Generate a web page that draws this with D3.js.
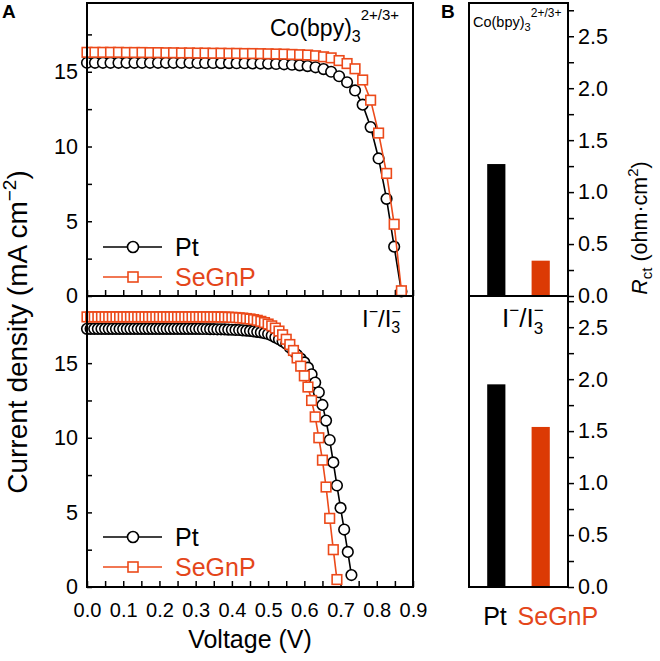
<!DOCTYPE html>
<html><head><meta charset="utf-8">
<script src="https://cdn.jsdelivr.net/npm/d3@7"></script>
<style>body{margin:0;background:#fff} svg{display:block} text{font-family:"Liberation Sans",Arial,sans-serif}</style>
</head><body><svg id="c" width="660" height="661"></svg>
<script>
// ---------- DATA ----------
const coVoltage=[0.000,0.022,0.044,0.065,0.087,0.109,0.131,0.152,0.174,0.196,0.218,0.239,0.261,0.283,0.305,0.326,0.348,0.370,0.392,0.413,0.435,0.457,0.479,0.500,0.522,0.544,0.566,0.587,0.609,0.631,0.653,0.674,0.696,0.718,0.740,0.761,0.783,0.805,0.827,0.848,0.868];
const coPt=[15.60,15.60,15.60,15.60,15.60,15.60,15.60,15.60,15.60,15.60,15.60,15.60,15.60,15.60,15.59,15.59,15.59,15.58,15.58,15.57,15.57,15.56,15.55,15.54,15.52,15.50,15.47,15.43,15.38,15.30,15.18,15.00,14.70,14.30,13.75,12.80,11.30,9.20,6.50,3.30,0.30];
const coSeGnP=[16.30,16.30,16.30,16.30,16.30,16.29,16.29,16.29,16.28,16.28,16.27,16.27,16.26,16.26,16.25,16.25,16.24,16.24,16.23,16.23,16.22,16.22,16.21,16.20,16.19,16.18,16.16,16.14,16.12,16.07,16.00,15.93,15.75,15.55,15.20,14.45,13.10,10.90,8.20,4.80,0.35];
const iVoltage=[0.00,0.01,0.02,0.03,0.04,0.05,0.06,0.07,0.08,0.09,0.10,0.11,0.12,0.13,0.14,0.15,0.16,0.17,0.18,0.19,0.20,0.21,0.22,0.23,0.24,0.25,0.26,0.27,0.28,0.29,0.30,0.31,0.32,0.33,0.34,0.35,0.36,0.37,0.38,0.39,0.40,0.41,0.42,0.43,0.44,0.45,0.46,0.47,0.48,0.49,0.50,0.51,0.52,0.53,0.54,0.55,0.56,0.57,0.58,0.59,0.60,0.61,0.62,0.63,0.64,0.65,0.66,0.67,0.68,0.69,0.70,0.71,0.72,0.73];
const iPt=[17.30,17.30,17.30,17.30,17.30,17.30,17.30,17.30,17.30,17.30,17.30,17.30,17.30,17.30,17.30,17.30,17.30,17.30,17.30,17.30,17.30,17.30,17.30,17.30,17.30,17.30,17.30,17.30,17.30,17.30,17.30,17.30,17.29,17.29,17.28,17.28,17.27,17.27,17.26,17.25,17.24,17.23,17.22,17.20,17.18,17.16,17.13,17.10,17.06,17.01,16.95,16.85,16.73,16.60,16.46,16.30,16.05,15.80,15.55,15.30,15.05,14.70,14.25,13.70,13.05,12.20,11.15,9.85,8.35,6.80,5.30,3.85,2.35,0.80];
const iSeGnP=[18.10,18.10,18.10,18.10,18.10,18.10,18.10,18.10,18.10,18.10,18.10,18.10,18.10,18.10,18.10,18.10,18.10,18.10,18.10,18.10,18.10,18.10,18.10,18.10,18.10,18.10,18.10,18.10,18.10,18.10,18.10,18.10,18.10,18.10,18.10,18.10,18.10,18.09,18.09,18.08,18.07,18.06,18.04,18.02,17.99,17.96,17.92,17.87,17.80,17.72,17.62,17.50,17.35,17.15,16.90,16.60,16.25,15.85,15.35,14.80,14.15,13.40,12.50,11.40,10.00,8.50,6.70,4.60,2.50,0.50];
const voltageTicks=[0.0,0.1,0.2,0.3,0.4,0.5,0.6,0.7,0.8,0.9];
const voltageMinorTicks=[0.05,0.15,0.25,0.35,0.45,0.55,0.65,0.75,0.85];
const currentTicks=[0,5,10,15];
const currentMinorTicks=[2.5,7.5,12.5,17.5];
const barCategories=["Pt","SeGnP"];
const rctCo=[1.27,0.34];
const rctI=[1.95,1.54];
const rctTicks=[0,0.5,1.0,1.5,2.0,2.5];
const rctMinorTicks=[0.25,0.75,1.25,1.75,2.25,2.75];

// ---------- STYLE ----------
const ORANGE="#ec4a1a", BARORANGE="#dc3a04", TEXTORANGE="#e4461a";
const FONT="'Liberation Sans',Arial,sans-serif";
const svg=d3.select("#c");

const AX0=87, AX1=413, BX0=469, BX1=568, YT=3, YM=296, YB=587;
const x=d3.scaleLinear().domain([0,0.9]).range([AX0,AX1]);
const yTop=d3.scaleLinear().domain([0,19.6]).range([YM,YT]);
const yBot=d3.scaleLinear().domain([0,19.5]).range([YB,YM]);
const rTop=d3.scaleLinear().domain([0,2.82]).range([YM,YT]);
const rBot=d3.scaleLinear().domain([0,2.8]).range([YB,YM]);
const xb=d3.scaleBand().domain(barCategories).range([BX0,BX1]).paddingInner(0.59).paddingOuter(0.41);

function styleAxis(g,size){
  g.select(".domain").remove();
  g.selectAll("line").attr("stroke","#000").attr("stroke-width",1.5);
  g.selectAll("text").attr("font-size",size).attr("font-family",FONT).attr("fill","#000");
}
// left y axes
[yTop,yBot].forEach(ys=>{
  const g=svg.append("g").attr("transform",`translate(${AX0},0)`)
    .call(d3.axisLeft(ys).tickValues(currentTicks).tickSizeInner(-5).tickSizeOuter(0).tickPadding(9).tickFormat(d3.format("d")));
  styleAxis(g,21.5);
  const gm=svg.append("g").attr("transform",`translate(${AX0},0)`)
    .call(d3.axisLeft(ys).tickValues(currentMinorTicks).tickSizeInner(-5).tickSizeOuter(0).tickFormat(""));
  styleAxis(gm,10);
});
// x axes (inward ticks)
[YM,YB].forEach((yy,i)=>{
  const g=svg.append("g").attr("transform",`translate(0,${yy})`)
    .call(d3.axisBottom(x).tickValues(voltageTicks).tickSizeInner(-6).tickSizeOuter(0).tickPadding(16).tickFormat(i===1?d3.format(".1f"):""));
  styleAxis(g,20);
  const gm=svg.append("g").attr("transform",`translate(0,${yy})`)
    .call(d3.axisBottom(x).tickValues(voltageMinorTicks).tickSizeInner(-6).tickSizeOuter(0).tickFormat(""));
  styleAxis(gm,10);
});
// right axes for B
[rTop,rBot].forEach(rs=>{
  const g=svg.append("g").attr("transform",`translate(${BX1},0)`)
    .call(d3.axisRight(rs).tickValues(rctTicks).tickSizeInner(6).tickSizeOuter(0).tickPadding(4).tickFormat(d3.format(".1f")));
  styleAxis(g,21.5);
  const gm=svg.append("g").attr("transform",`translate(${BX1},0)`)
    .call(d3.axisRight(rs).tickValues(rctMinorTicks).tickSizeInner(6).tickSizeOuter(0).tickFormat(""));
  styleAxis(gm,10);
});

// curves
function drawSeries(vs,js,ys,color,shape){
  const pts=js.map((j,i)=>[vs[i],j]);
  svg.append("path").datum(pts).attr("fill","none").attr("stroke",color).attr("stroke-width",1.6)
    .attr("d",d3.line().x(d=>x(d[0])).y(d=>ys(d[1])));
  const g=svg.append("g");
  if(shape==="circle"){
    g.selectAll("circle").data(pts).join("circle").attr("cx",d=>x(d[0])).attr("cy",d=>ys(d[1])).attr("r",5.3)
      .attr("fill","#fff").attr("stroke",color).attr("stroke-width",1.6);
  }else{
    const s=9.6;
    g.selectAll("rect").data(pts).join("rect").attr("x",d=>x(d[0])-s/2).attr("y",d=>ys(d[1])-s/2).attr("width",s).attr("height",s)
      .attr("fill","#fff").attr("stroke",color).attr("stroke-width",1.6);
  }
}
drawSeries(coVoltage,coPt,yTop,"#000","circle");
drawSeries(coVoltage,coSeGnP,yTop,ORANGE,"square");
drawSeries(iVoltage,iPt,yBot,"#000","circle");
drawSeries(iVoltage,iSeGnP,yBot,ORANGE,"square");

// bars
[[rctCo,rTop],[rctI,rBot]].forEach(([vals,rs])=>{
  svg.append("g").selectAll("rect").data(vals).join("rect")
    .attr("x",(d,i)=>xb(barCategories[i])).attr("width",xb.bandwidth())
    .attr("y",d=>rs(d)).attr("height",d=>rs(0)-rs(d))
    .attr("fill",(d,i)=>i===0?"#000":BARORANGE);
});

// frames
[[AX0,YT,AX1,YM],[AX0,YM,AX1,YB],[BX0,YT,BX1,YM],[BX0,YM,BX1,YB]].forEach(([a,b,c,d])=>{
  svg.append("rect").attr("x",a).attr("y",b).attr("width",c-a).attr("height",d-b)
    .attr("fill","none").attr("stroke","#000").attr("stroke-width",2);
});

// legends
function legend(y0){
  const rows=[["Pt","#000","circle"],["SeGnP",ORANGE,"square"]];
  rows.forEach((r,i)=>{
    const y=y0+i*30;
    svg.append("line").attr("x1",103).attr("x2",162).attr("y1",y).attr("y2",y).attr("stroke",r[1]).attr("stroke-width",1.6);
    if(r[2]==="circle") svg.append("circle").attr("cx",133).attr("cy",y).attr("r",5.5).attr("fill","#fff").attr("stroke",r[1]).attr("stroke-width",1.6);
    else svg.append("rect").attr("x",133-5).attr("y",y-5).attr("width",10).attr("height",10).attr("fill","#fff").attr("stroke",r[1]).attr("stroke-width",1.6);
    svg.append("text").attr("x",175).attr("y",y+9).attr("font-size",25).attr("fill",i===0?"#000":TEXTORANGE).text(r[0]);
  });
}
legend(247); legend(537);

// annotations
function coLabel(xx,yy,base,sub,sup,dsub,dsup){
  const t=svg.append("text").attr("x",xx).attr("y",yy).attr("font-size",base);
  t.append("tspan").text("Co(bpy)");
  t.append("tspan").attr("font-size",sub).attr("dy",dsub).text("3");
  t.append("tspan").attr("font-size",sup).attr("dy",dsup).text("2+/3+");
}
coLabel(270,36,23,16,15,6,-22);
coLabel(473,27,14.5,11,12,4,-14);
function iLabel(xx,yy,base,small){
  const t=svg.append("text").attr("x",xx).attr("y",yy).attr("font-size",base);
  t.append("tspan").text("I");
  t.append("tspan").attr("font-size",small).attr("dy",-base*0.42).text("\u2212");
  t.append("tspan").attr("font-size",base).attr("dy",base*0.42).text("/I");
  t.append("tspan").attr("font-size",small).attr("dy",base*0.25).text("3");
  t.append("tspan").attr("font-size",small).attr("dx",-small*0.55).attr("dy",-base*0.67).text("\u2212");
}
iLabel(362,327,24,16);
iLabel(502,327,26,17);

// axis titles
svg.append("text").attr("x",250).attr("y",648).attr("text-anchor","middle").attr("font-size",25).text("Voltage (V)");
const yt=svg.append("text").attr("transform","translate(27,332) rotate(-90)").attr("text-anchor","middle").attr("font-size",28);
yt.append("tspan").text("Current density (mA cm");
yt.append("tspan").attr("font-size",19).attr("dy",-11).text("\u22122");
yt.append("tspan").attr("font-size",28).attr("dy",11).text(")");
const rt=svg.append("text").attr("transform","translate(647,228) rotate(-90)").attr("text-anchor","middle").attr("font-size",21.5);
rt.append("tspan").attr("font-style","italic").text("R");
rt.append("tspan").attr("font-size",15).attr("dy",5).text("ct");
rt.append("tspan").attr("font-size",21.5).attr("dy",-5).text(" (ohm\u00b7cm");
rt.append("tspan").attr("font-size",15).attr("dy",-9).text("2");
rt.append("tspan").attr("font-size",21.5).attr("dy",9).text(")");

// bar category labels
svg.append("text").attr("x",xb("Pt")-4).attr("y",625).attr("font-size",25).text("Pt");
svg.append("text").attr("x",xb("SeGnP")-14).attr("y",625).attr("font-size",25).attr("fill",TEXTORANGE).text("SeGnP");

// panel letters
svg.append("text").attr("x",2).attr("y",18).attr("font-size",19).attr("font-weight","bold").text("A");
svg.append("text").attr("x",441).attr("y",18).attr("font-size",19).attr("font-weight","bold").text("B");
</script></body></html>
